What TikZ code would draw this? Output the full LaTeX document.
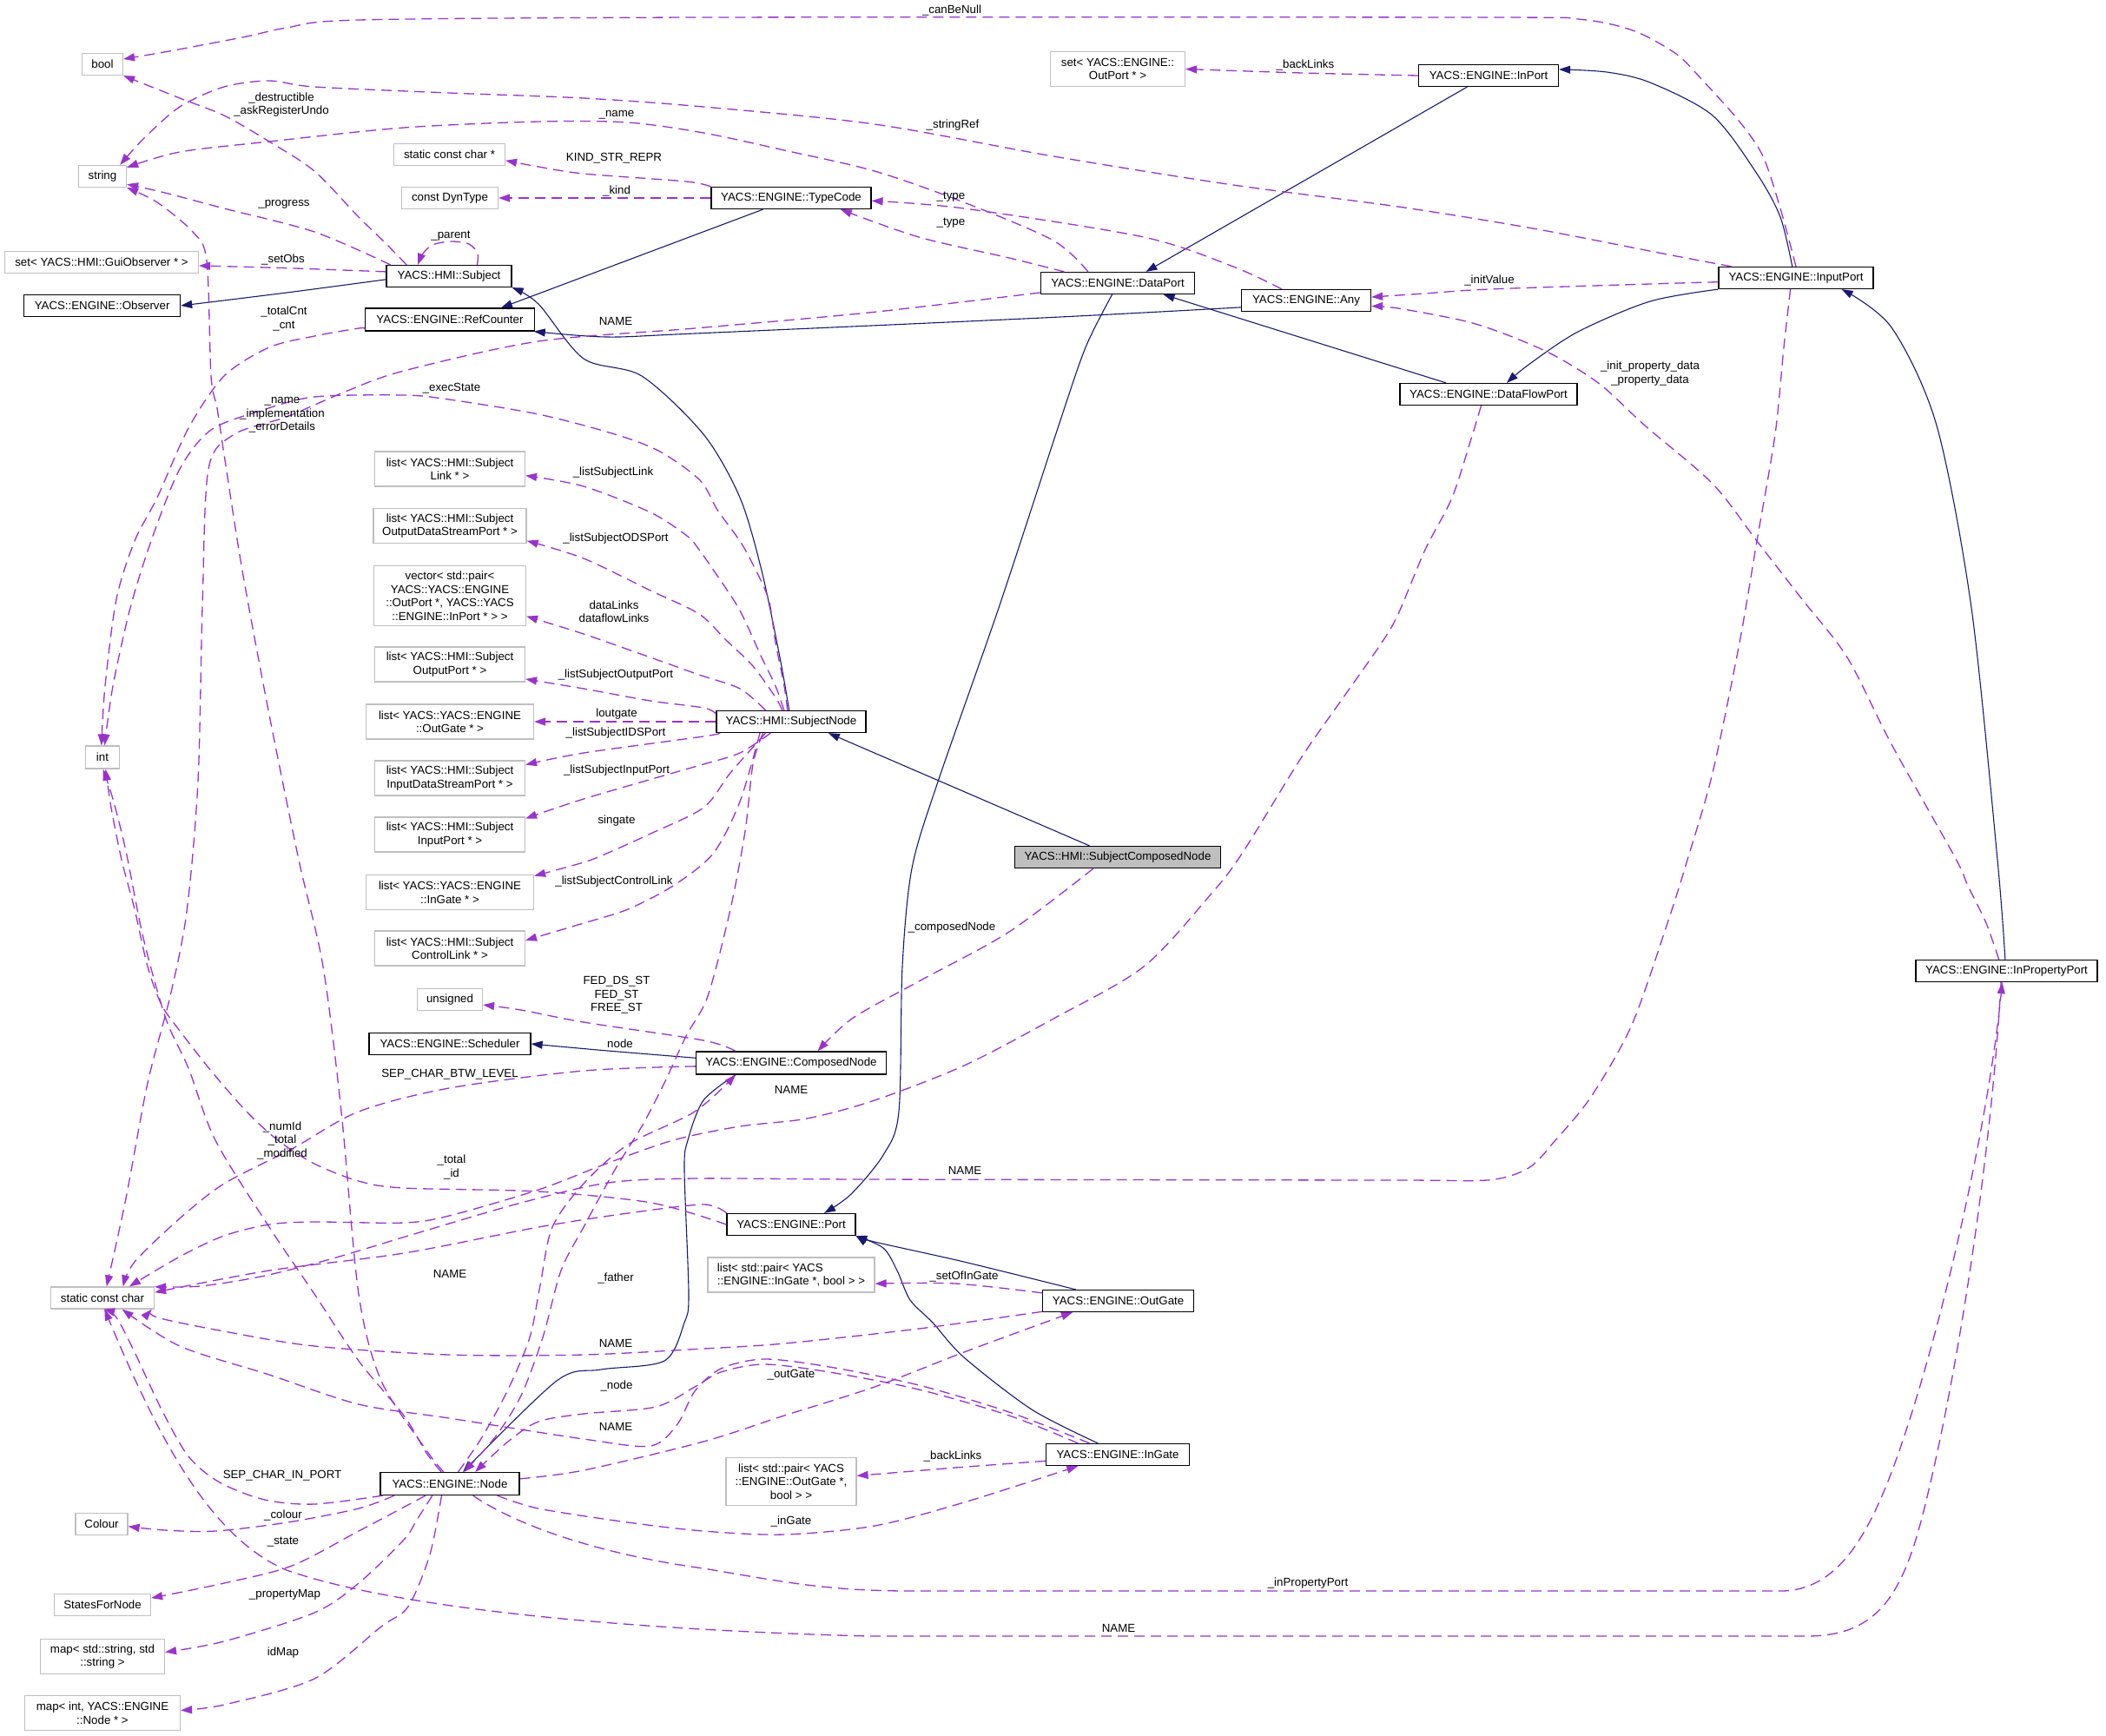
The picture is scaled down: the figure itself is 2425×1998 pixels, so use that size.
\documentclass[tikz,border=0pt]{standalone}
\usepackage{fontspec}
\setmainfont{Liberation Sans}
\usetikzlibrary{arrows.meta}
\definecolor{depc}{HTML}{9A32CD}
\definecolor{navyc}{HTML}{191970}
\definecolor{extc}{HTML}{BFBFBF}
\begin{document}
\begin{tikzpicture}[x=1pt,y=-1pt,
  every node/.style={font=\fontsize{13.3}{15.5}\selectfont, inner sep=0pt},
  cls/.style={draw=black, line width=1.2pt, fill=white, minimum height=25pt, align=center},
  ext/.style={draw=extc, line width=1.2pt, fill=white, minimum height=25pt, align=center},
  dep/.style={draw=depc, line width=1.3pt, dash pattern=on 12pt off 7pt, -{Triangle[length=13pt,width=9pt]}},
  inh/.style={draw=navyc, line width=1.1pt, -{Triangle[length=13pt,width=9pt]}},
  lbl/.style={align=center}]
\useasboundingbox[fill=white] (0,0) rectangle (2425,1998);
% ---------------- nodes ----------------
\node[ext, minimum width=47pt] (bool) at (118,74) {bool};
\node[ext, minimum width=55pt] (string) at (118,203) {string};
\node[ext, minimum width=128pt] (sccp) at (517.5,178) {static const char *};
\node[ext, minimum width=111pt] (dyn) at (518,228) {const DynType};
\node[ext, minimum width=223pt] (guiobs) at (117,302) {set< YACS::HMI::GuiObserver * >};
\node[cls, minimum width=144pt] (subject) at (517,318) {YACS::HMI::Subject};
\node[cls, minimum width=180pt] (observer) at (117.6,352) {YACS::ENGINE::Observer};
\node[cls, minimum width=195pt, minimum height=26pt] (refc) at (518,368) {YACS::ENGINE::RefCounter};
\node[ext, minimum width=155pt, minimum height=40pt] (setout) at (1287,79.5) {set< YACS::ENGINE::\\OutPort * >};
\node[cls, minimum width=184pt] (typecode) at (911,228) {YACS::ENGINE::TypeCode};
\node[cls, minimum width=177pt] (dataport) at (1287,326) {YACS::ENGINE::DataPort};
\node[cls, minimum width=149pt] (any) at (1504,346) {YACS::ENGINE::Any};
\node[cls, minimum width=161pt] (inport) at (1714,87) {YACS::ENGINE::InPort};
\node[cls, minimum width=178pt] (inputport) at (2068,320) {YACS::ENGINE::InputPort};
\node[cls, minimum width=204pt] (dfport) at (1714,454) {YACS::ENGINE::DataFlowPort};
\node[ext, minimum width=173pt, minimum height=40pt] (lLink) at (518,540) {list< YACS::HMI::Subject\\Link * >};
\node[ext, minimum width=176pt, minimum height=40pt] (lODS) at (518,605.5) {list< YACS::HMI::Subject\\OutputDataStreamPort * >};
\node[ext, minimum width=175pt, minimum height=69pt] (vec) at (518,686) {vector< std::pair<\\YACS::YACS::ENGINE\\::OutPort *, YACS::YACS\\::ENGINE::InPort * > >};
\node[ext, minimum width=173pt, minimum height=40pt] (lOut) at (518,765) {list< YACS::HMI::Subject\\OutputPort * >};
\node[ext, minimum width=193pt, minimum height=40pt] (lOutGate) at (518,831) {list< YACS::YACS::ENGINE\\::OutGate * >};
\node[ext, minimum width=173pt, minimum height=40pt] (lIDS) at (518,896) {list< YACS::HMI::Subject\\InputDataStreamPort * >};
\node[ext, minimum width=173pt, minimum height=40pt] (lIn) at (518,961) {list< YACS::HMI::Subject\\InputPort * >};
\node[ext, minimum width=39pt, minimum height=26pt] (intt) at (118,872) {int};
\node[cls, minimum width=172pt] (sn) at (911,831) {YACS::HMI::SubjectNode};
\node[cls, fill=extc, minimum width=237pt] (scn) at (1287,987) {YACS::HMI::SubjectComposedNode};
\node[ext, minimum width=193pt, minimum height=40pt] (lInGate) at (518,1027.5) {list< YACS::YACS::ENGINE\\::InGate * >};
\node[ext, minimum width=173pt, minimum height=40pt] (lCtrl) at (518,1092) {list< YACS::HMI::Subject\\ControlLink * >};
\node[ext, minimum width=75pt] (unsig) at (518,1151) {unsigned};
\node[cls, minimum width=186pt] (sched) at (518,1202) {YACS::ENGINE::Scheduler};
\node[ext, minimum width=119pt] (scc) at (118,1494.5) {static const char};
\node[cls, minimum width=219pt, minimum height=26pt] (cn) at (911,1224) {YACS::ENGINE::ComposedNode};
\node[cls, minimum width=148pt] (port) at (911,1410) {YACS::ENGINE::Port};
\node[ext, minimum width=192pt, minimum height=40pt, align=left] (lPairIn) at (911,1468) {list< std::pair< YACS\\::ENGINE::InGate *, bool > >};
\node[cls, minimum width=174pt] (outgate) at (1287.6,1498) {YACS::ENGINE::OutGate};
\node[cls, minimum width=160pt, minimum height=26pt] (ynode) at (518,1708.5) {YACS::ENGINE::Node};
\node[ext, minimum width=60pt] (colour) at (117,1755) {Colour};
\node[ext, minimum width=111pt] (sfn) at (118,1848) {StatesForNode};
\node[ext, minimum width=143pt, minimum height=40pt] (mapss) at (118,1907.5) {map< std::string, std\\::string >};
\node[ext, minimum width=179pt, minimum height=40pt] (mapin) at (118,1972.5) {map< int, YACS::ENGINE\\::Node * >};
\node[cls, minimum width=165pt] (ingate) at (1287,1675) {YACS::ENGINE::InGate};
\node[ext, minimum width=150pt, minimum height=55pt] (lPairOut) at (911,1706) {list< std::pair< YACS\\::ENGINE::OutGate *,\\bool > >};
\node[cls, minimum width=209pt] (inprop) at (2310.5,1118) {YACS::ENGINE::InPropertyPort};
% ---------------- inheritance (solid) ----------------
\draw[inh] plot[smooth] coordinates {(subject.183) (330,337) (observer.east)};
\draw[inh] (typecode.-158) -- (refc.13);
\draw[inh] plot[smooth] coordinates {(any.-174) (1200,366) (800,384) (698,388) (refc.-8)};
\draw[inh] plot[smooth] coordinates {(sn.100) (898,757) (877,657) (852,573) (810,500) (739,433) (672,413) (620,350) (subject.south east)};
\draw[inh] (scn.158.7) -- (sn.-17.8);
\draw[inh] (inport.-152.5) -- (dataport.22.6);
\draw[inh] (dfport.165) -- (dataport.-14.6);
\draw[inh] plot[smooth] coordinates {(inputport.108) (2050,250) (2023,200) (1972,133) (1900,95) (1850,83) (inport.5)};
\draw[inh] plot[smooth] coordinates {(inputport.south west) (1900,347) (1817,382) (1760,420) (dfport.32)};
\draw[inh] plot[smooth] coordinates {(inprop.97) (2300,990) (2270,700) (2230,490) (2178,377) (inputport.-14)};
\draw[inh] plot[smooth] coordinates {(dataport.-116) (1250,400) (1219,490) (1150,700) (1079,903) (1050,1000) (1039,1113) (1035,1280) (1017,1330) (980,1375) (port.19)};
\draw[inh] plot[smooth] coordinates {(cn.177) (700,1210) (sched.east)};
\draw[inh] plot[smooth] coordinates {(cn.-168) (810,1267) (792,1313) (788,1347) (793,1490) (788,1523) (765,1567) (692,1577) (641,1590) (ynode.42)};
\draw[inh] plot[smooth] coordinates {(outgate.165) (1110,1453) (1007,1430) (port.south east)};
\draw[inh] plot[smooth] coordinates {(ingate.150) (1188,1623) (1110,1563) (1074,1523) (1048,1497) (1033,1463) (1017,1437) (port.-10)};
% ---------------- usage (dashed) ----------------
\draw[dep] plot[smooth] coordinates {(inputport.north) (2050,240) (2030,180) (2003,140) (1960,92) (1930,62) (1880,35) (1817,22) (1700,20) (810,20) (413,23) (330,32) (284,42) (200,58) (bool.14)};
\draw[dep] plot[smooth] coordinates {(subject.165) (444,280) (413,250) (362,197) (310,163) (258,133) (207,113) (bool.south east)};
\draw[dep] plot[smooth] coordinates {(dataport.159) (1213,277) (1110,233) (1007,197) (903,173) (810,153) (723,141) (620,140) (465,147) (310,163) (207,175) (string.20)};
\draw[dep] plot[smooth] coordinates {(inputport.170) (1920,293) (1765,263) (1610,238) (1420,213) (1213,180) (1007,143) (810,123) (672,113) (517,107) (362,100) (310,93) (258,100) (207,123) (165,160) (string.33)};
\draw[dep] plot[smooth] coordinates {(subject.169) (362,267) (258,240) (190,222) (string.-18)};
\draw[dep] plot[smooth] coordinates {(subject.22) (550,292) (540,281) (519,278) (498,282) (487,292) (subject.160)};
\draw[dep] plot[smooth] coordinates {(subject.176) (340,309) (guiobs.-2)};
\draw[dep] (typecode.west) -- (dyn.east);
\draw[dep] plot[smooth] coordinates {(typecode.north west) (790,209) (672,200) (620,192) (sccp.-6)};
\draw[dep] plot[smooth] coordinates {(any.155) (1420,307) (1317,273) (1110,240) (typecode.-2.5)};
\draw[dep] plot[smooth] coordinates {(dataport.168) (1162,297) (1058,273) (typecode.-13.5)};
\draw[dep] plot[smooth] coordinates {(inport.west) (1500,84) (setout.east)};
\draw[dep] plot[smooth] coordinates {(inputport.183) (1900,327) (1715,333) (1640,338) (any.3)};
\draw[dep] plot[smooth] coordinates {(inprop.124) (2287,1063) (2266,1020) (2251,987) (2178,857) (2127,757) (2075,690) (2023,623) (1972,557) (1894,490) (1843,443) (1791,410) (1739,387) (1688,370) (1610,355) (any.-5)};
\draw[dep] (inprop.-116) .. controls (2295,1300) and (2260,1560) .. (2215,1740) .. controls (2190,1840) and (2160,1884) .. (2080,1884) -- (1000,1884) .. controls (700,1876) and (450,1850) .. (330,1808) .. controls (240,1770) and (180,1650) .. (scc.-80);
\draw[dep] (ynode.-27) .. controls (600,1760) and (700,1791) .. (810,1806) .. controls (900,1821) and (950,1832) .. (1050,1832) -- (2050,1832) .. controls (2115,1832) and (2150,1770) .. (2180,1690) .. controls (2235,1540) and (2290,1290) .. (inprop.-111);
\draw[dep] plot[smooth] coordinates {(ynode.-14) (620,1737) (723,1753) (810,1763) (903,1767) (1007,1757) (1110,1730) (ingate.196)};
\draw[dep] plot[smooth] coordinates {(ynode.4) (672,1693) (810,1660) (903,1630) (1007,1597) (1110,1557) (outgate.194)};
\draw[dep] plot[smooth] coordinates {(outgate.-172) (1058,1530) (903,1547) (810,1553) (672,1560) (517,1560) (362,1550) (258,1533) (181,1517) (scc.-13)};
\draw[dep] plot[smooth] coordinates {(ingate.164) (1162,1630) (1058,1600) (955,1580) (880,1571) (830,1580) (800,1597) (755,1620) (672,1628) (620,1637) (585,1660) (ynode.25)};
\draw[dep] plot[smooth] coordinates {(ingate.158) (1162,1626) (1058,1595) (955,1574) (880,1565) (830,1576) (800,1602) (780,1640) (749,1665) (672,1657) (517,1633) (413,1617) (310,1583) (207,1550) (scc.-30)};
\draw[dep] plot[smooth] coordinates {(sn.-158) (867,880) (858,957) (841,1047) (815,1147) (790,1193) (765,1247) (739,1297) (708,1347) (672,1413) (646,1463) (625,1540) (600,1607) (570,1655) (ynode.40)};
\draw[dep] plot[smooth] coordinates {(ynode.55) (555,1655) (585,1600) (610,1540) (622,1480) (636,1413) (672,1363) (723,1318) (800,1280) (cn.-168)};
\draw[dep] plot[smooth] coordinates {(scn.-155) (1162,1073) (1058,1130) (981,1173) (cn.24)};
\draw[dep] plot[smooth] coordinates {(cn.168) (810,1198) (672,1177) (600,1163) (unsig.-9)};
\draw[dep] plot[smooth] coordinates {(cn.182) (672,1233) (517,1253) (413,1280) (336,1323) (258,1363) (207,1403) (155,1453) (scc.29)};
\draw[dep] plot[smooth] coordinates {(dfport.-123) (1695,502) (1672,573) (1641,633) (1610,707) (1591,740) (1549,800) (1498,873) (1430,983) (1394,1030) (1317,1113) (1213,1173) (1110,1227) (1007,1267) (929,1288) (852,1297) (775,1313) (698,1340) (620,1370) (517,1400) (465,1408) (362,1407) (310,1410) (258,1423) (207,1447) (scc.23)};
\draw[dep] plot[smooth] coordinates {(inputport.-116) (2054,400) (2044,500) (2023,623) (2003,740) (1972,890) (1943,990) (1920,1063) (1879,1180) (1832,1263) (1791,1313) (1760,1345) (1713,1359) (1610,1359) (1000,1358) (800,1357) (700,1362) (600,1385) (480,1420) (380,1450) (300,1470) (230,1481) (scc.12)};
\draw[dep] plot[smooth] coordinates {(port.170) (810,1387) (723,1397) (620,1413) (465,1443) (310,1463) (scc.6)};
\draw[dep] plot[smooth] coordinates {(port.180) (750,1385) (620,1372) (465,1368) (413,1360) (362,1340) (320,1313) (284,1280) (243,1233) (207,1187) (186,1157) (170,1113) (155,1047) (140,990) (128,930) (intt.-75)};
\draw[dep] plot[smooth] coordinates {(ynode.126) (491,1673) (465,1630) (413,1567) (362,1490) (310,1413) (248,1313) (217,1230) (191,1173) (165,1080) (145,980) (130,920) (intt.-88)};
\draw[dep] plot[smooth] coordinates {(ynode.118) (491,1670) (439,1590) (413,1490) (393,1280) (372,1113) (344,990) (310,823) (279,657) (258,523) (250,470) (243,433) (238,300) (222,267) (181,233) (string.south east)};
\draw[dep] plot[smooth] coordinates {(dataport.-173) (1000,360) (800,378) (620,393) (465,427) (400,450) (330,480) (270,500) (240,540) (233,700) (228,900) (215,1050) (196,1147) (170,1247) (145,1380) (scc.70)};
\draw[dep] plot[smooth] coordinates {(refc.-174) (413,378) (362,387) (310,400) (258,433) (217,493) (181,573) (155,623) (134,690) (121,790) (intt.95)};
\draw[dep] plot[smooth] coordinates {(sn.108) (903,790) (893,740) (885,690) (867,650) (852,623) (826,587) (806,553) (760,520) (708,500) (620,477) (517,460) (465,455) (362,457) (300,473) (243,495) (207,540) (175,620) (150,700) (130,790) (intt.80)};
\draw[dep] plot[smooth] coordinates {(ynode.-170) (362,1732) (305,1727) (253,1707) (217,1677) (186,1623) (155,1557) (134,1517) (scc.-85)};
\draw[dep] plot[smooth] coordinates {(ynode.-168) (413,1737) (331,1753) (248,1763) (190,1762) (colour.-5)};
\draw[dep] plot[smooth] coordinates {(ynode.-154) (413,1763) (336,1803) (258,1823) (sfn.8)};
\draw[dep] plot[smooth] coordinates {(ynode.-146) (480,1750) (465,1773) (413,1823) (362,1857) (258,1890) (mapss.4)};
\draw[dep] plot[smooth] coordinates {(ynode.-125) (495,1790) (470,1850) (439,1873) (362,1933) (258,1963) (mapin.2)};
% SubjectNode lists
\draw[dep] plot[smooth] coordinates {(sn.122.6) (893,790) (877,757) (852,703) (826,663) (805,633) (791,617) (749,590) (672,560) (lLink.-5)};
\draw[dep] plot[smooth] coordinates {(sn.128.7) (893,803) (867,767) (836,737) (805,707) (749,680) (672,643) (lODS.-11)};
\draw[dep] plot[smooth] coordinates {(sn.156) (852,793) (805,777) (749,757) (672,730) (vec.-15)};
\draw[dep] plot[smooth] coordinates {(sn.174) (810,815) (749,807) (672,793) (lOut.-11)};
\draw[dep] (sn.west) -- (lOutGate.east);
\draw[dep] plot[smooth] coordinates {(sn.-171) (810,848) (672,867) (lIDS.10.5)};
\draw[dep] plot[smooth] coordinates {(sn.-151) (852,867) (810,880) (775,890) (672,920) (lIn.12.4)};
\draw[dep] plot[smooth] coordinates {(sn.-156) (841,890) (810,930) (749,960) (698,983) (672,993) (lInGate.11.4)};
\draw[dep] plot[smooth] coordinates {(sn.-160) (852,923) (821,983) (775,1020) (723,1047) (672,1063) (lCtrl.6)};
% gates
\draw[dep] plot[smooth] coordinates {(outgate.174.7) (1100,1478) (lPairIn.-6)};
\draw[dep] plot[smooth] coordinates {(ingate.-175) (1100,1690) (lPairOut.5.3)};
% ---------------- labels ----------------
\node[lbl] (t1) at (1096,12) {\_canBeNull};
\node[lbl] (t2) at (1503,75) {\_backLinks};
\node[lbl] (t3) at (324,120.5) {\_destructible\\\_askRegisterUndo};
\node[lbl] (t4) at (710,132) {\_name};
\node[lbl] (t5) at (1097,144) {\_stringRef};
\node[lbl] (t6) at (707,182) {KIND\_STR\_REPR};
\node[lbl] (t7) at (710,220) {\_kind};
\node[lbl] (t8) at (1095,227) {\_type};
\node[lbl] (t9) at (1095,257) {\_type};
\node[lbl] (t10) at (327,235) {\_progress};
\node[lbl] (t11) at (519,272) {\_parent};
\node[lbl] (t12) at (326,299) {\_setObs};
\node[lbl] (t13) at (1715,323) {\_initValue};
\node[lbl] (t14) at (327,367) {\_totalCnt\\\_cnt};
\node[lbl] (t15) at (709,370) {NAME};
\node[lbl] (t16) at (1900,430) {\_init\_property\_data\\\_property\_data};
\node[lbl] (t17) at (520,447) {\_execState};
\node[lbl] (t18) at (325,478) {\_name\\\_implementation\\\_errorDetails};
\node[lbl] (t19) at (706,544) {\_listSubjectLink};
\node[lbl] (t20) at (709,620) {\_listSubjectODSPort};
\node[lbl] (t21) at (707,704) {dataLinks\\dataflowLinks};
\node[lbl] (t22) at (709,777) {\_listSubjectOutputPort};
\node[lbl] (t23) at (710,822) {loutgate};
\node[lbl] (t24) at (709,844) {\_listSubjectIDSPort};
\node[lbl] (t25) at (710,887) {\_listSubjectInputPort};
\node[lbl] (t26) at (710,945) {singate};
\node[lbl] (t27) at (707,1015) {\_listSubjectControlLink};
\node[lbl] (t28) at (1096,1068) {\_composedNode};
\node[lbl] (t29) at (710,1146) {FED\_DS\_ST\\FED\_ST\\FREE\_ST};
\node[lbl] (t30) at (714,1202) {node};
\node[lbl] (t31) at (518,1237) {SEP\_CHAR\_BTW\_LEVEL};
\node[lbl] (t32) at (911,1255) {NAME};
\node[lbl] (t33) at (325,1313) {\_numId\\\_total\\\_modified};
\node[lbl] (t34) at (520,1344) {\_total\\\_id};
\node[lbl] (t35) at (1111,1348) {NAME};
\node[lbl] (t36) at (518,1467) {NAME};
\node[lbl] (t37) at (709,1472) {\_father};
\node[lbl] (t38) at (1110,1470) {\_setOfInGate};
\node[lbl] (t39) at (709,1547) {NAME};
\node[lbl] (t40) at (911,1583) {\_outGate};
\node[lbl] (t41) at (710,1596) {\_node};
\node[lbl] (t42) at (709,1643) {NAME};
\node[lbl] (t43) at (1097,1677) {\_backLinks};
\node[lbl] (t44) at (325,1699) {SEP\_CHAR\_IN\_PORT};
\node[lbl] (t45) at (326,1745) {\_colour};
\node[lbl] (t46) at (911,1752) {\_inGate};
\node[lbl] (t47) at (326,1775) {\_state};
\node[lbl] (t48) at (1506,1823) {\_inPropertyPort};
\node[lbl] (t49) at (328,1836) {\_propertyMap};
\node[lbl] (t50) at (1288,1875) {NAME};
\node[lbl] (t51) at (326,1903) {idMap};
\end{tikzpicture}
\end{document}
